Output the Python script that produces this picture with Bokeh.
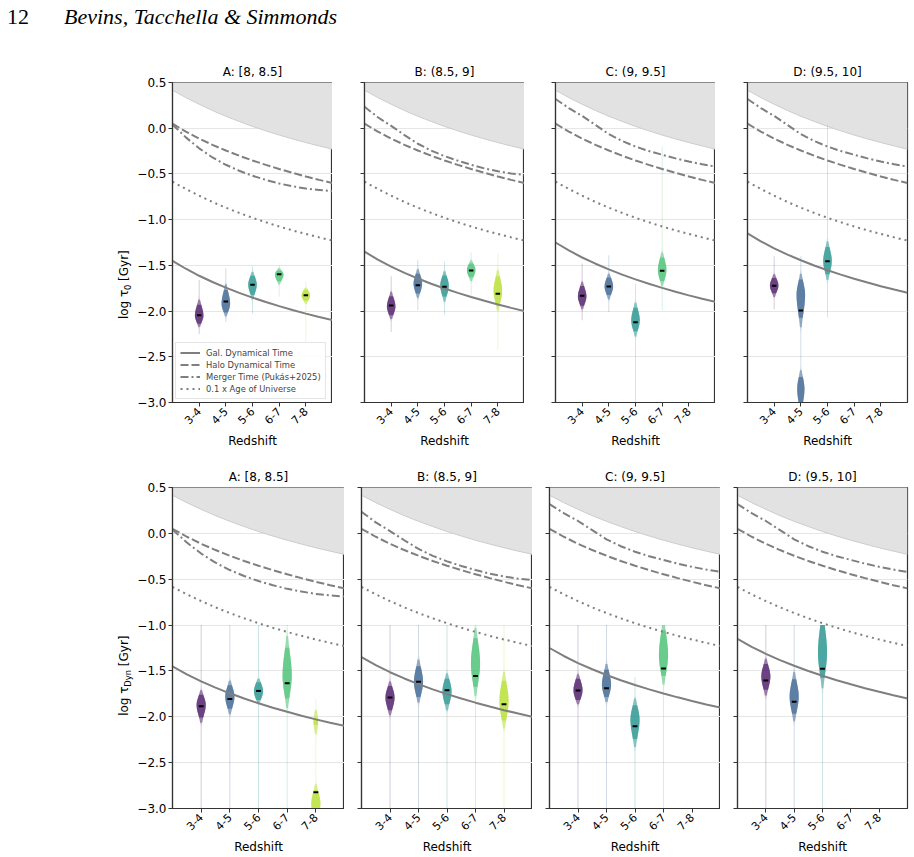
import numpy as np
from math import pi
from bokeh.plotting import figure
from bokeh.models import FixedTicker, Range1d, Label, Div, CustomJSTickFormatter, ColumnDataSource
from bokeh.layouts import row, column
from bokeh.embed import file_html
from bokeh.resources import INLINE

FONT = "DejaVu Sans"

# ---------------- data ----------------
redshift_bins = ["3-4", "4-5", "5-6", "6-7", "7-8"]
bin_x = [0, 1, 2, 3, 4]
panel_titles = ["A: [8, 8.5]", "B: (8.5, 9]", "C: (9, 9.5]", "D: (9.5, 10]"]
y_ticks = [-3.0, -2.5, -2.0, -1.5, -1.0, -0.5, 0.0, 0.5]
bin_colors = ["#471365", "#355f8d", "#21918c", "#44bf70", "#b5de2b"]

# curves sampled along the redshift axis (axis position -1 ... 5)
curve_x = [-1.0, -0.5, 0.0, 0.5, 1.0, 1.5, 2.0, 2.5, 3.0, 3.5, 4.0, 4.5, 5.0]
age_universe = [0.415, 0.335, 0.262, 0.193, 0.131, 0.074, 0.020, -0.029, -0.075, -0.117, -0.157, -0.194, -0.229]
tenth_age = [-0.585, -0.665, -0.738, -0.807, -0.869, -0.926, -0.980, -1.029, -1.075, -1.117, -1.157, -1.194, -1.229]
halo_dyn = [0.050, -0.037, -0.114, -0.182, -0.244, -0.301, -0.353, -0.401, -0.446, -0.488, -0.528, -0.565, -0.600]
gal_dyn_A = [-1.450, -1.537, -1.614, -1.682, -1.744, -1.801, -1.853, -1.901, -1.946, -1.988, -2.028, -2.065, -2.100]
gal_dyn_B = [-1.350, -1.437, -1.514, -1.582, -1.644, -1.701, -1.753, -1.801, -1.846, -1.888, -1.928, -1.965, -2.000]
gal_dyn_C = [-1.250, -1.337, -1.414, -1.482, -1.544, -1.601, -1.653, -1.701, -1.746, -1.788, -1.828, -1.865, -1.900]
gal_dyn_D = [-1.150, -1.237, -1.314, -1.382, -1.444, -1.501, -1.553, -1.601, -1.646, -1.688, -1.728, -1.765, -1.800]
merger_A = [0.040, -0.100, -0.220, -0.320, -0.400, -0.465, -0.520, -0.565, -0.605, -0.635, -0.660, -0.675, -0.690]
merger_B = [0.235, 0.120, 0.025, -0.075, -0.170, -0.245, -0.305, -0.355, -0.400, -0.440, -0.470, -0.495, -0.510]
merger_C = [0.320, 0.220, 0.135, 0.035, -0.065, -0.140, -0.200, -0.250, -0.290, -0.330, -0.365, -0.395, -0.420]
merger_D = [0.320, 0.220, 0.135, 0.035, -0.065, -0.140, -0.200, -0.250, -0.290, -0.330, -0.365, -0.395, -0.420]
gal_dyn = [gal_dyn_A, gal_dyn_B, gal_dyn_C, gal_dyn_D]
merger = [merger_A, merger_B, merger_C, merger_D]

# violins, log tau_0 (top row): one list per panel A..D, one value per redshift bin
t0_median = [[-2.045, -1.895, -1.713, -1.596, -1.826],
             [-1.939, -1.717, -1.735, -1.556, -1.811],
             [-1.833, -1.731, -2.121, -1.560],
             [-1.724, -1.994, -1.454]]
t0_peak = [[-2.05, -1.92, -1.71, -1.60, -1.83],
           [-1.95, -1.70, -1.72, -1.55, -1.78],
           [-1.84, -1.73, -2.10, -1.55],
           [-1.72, -1.82, -1.45]]
t0_sig_up = [[0.10, 0.12, 0.08, 0.04, 0.05],
             [0.09, 0.09, 0.09, 0.06, 0.13],
             [0.09, 0.08, 0.11, 0.11],
             [0.07, 0.13, 0.12]]
t0_sig_dn = [[0.07, 0.08, 0.09, 0.06, 0.05],
             [0.08, 0.09, 0.10, 0.07, 0.12],
             [0.08, 0.08, 0.10, 0.10],
             [0.07, 0.20, 0.12]]
t0_lo = [[-2.25, -2.12, -2.03, -1.84, -2.35],
         [-2.23, -1.99, -2.04, -1.83, -2.42],
         [-2.10, -2.01, -3.00, -1.99],
         [-1.98, -3.00, -2.07]]
t0_hi = [[-1.66, -1.53, -1.51, -1.50, -1.68],
         [-1.62, -1.44, -1.46, -1.36, -1.37],
         [-1.48, -1.39, -1.70, -0.20],
         [-1.40, -1.40, 0.03]]
# secondary lobes: (bin index, centre, sigma up, sigma down, relative height)
t0_lobes = [[], [], [], [(1, -2.85, 0.12, 0.15, 0.85)]]

# violins, log tau_Dyn (bottom row)
dyn_median = [[-1.885, -1.805, -1.718, -1.634, -2.823],
              [-1.790, -1.619, -1.710, -1.554, -1.863],
              [-1.714, -1.688, -2.103, -1.474],
              [-1.605, -1.837, -1.477]]
dyn_peak = [[-1.87, -1.78, -1.72, -1.55, -2.95],
            [-1.79, -1.62, -1.72, -1.42, -1.83],
            [-1.71, -1.65, -2.03, -1.33],
            [-1.56, -1.78, -1.30]]
dyn_sig_up = [[0.09, 0.10, 0.08, 0.24, 0.12],
              [0.10, 0.14, 0.11, 0.22, 0.18],
              [0.10, 0.13, 0.13, 0.22],
              [0.11, 0.15, 0.25]]
dyn_sig_dn = [[0.11, 0.11, 0.08, 0.20, 0.10],
              [0.11, 0.13, 0.12, 0.20, 0.17],
              [0.09, 0.11, 0.17, 0.18],
              [0.12, 0.15, 0.22]]
dyn_lo = [[-3.0, -3.0, -3.0, -3.0, -3.0],
          [-3.0, -3.0, -3.0, -3.0, -3.0],
          [-3.0, -3.0, -3.0, -3.0],
          [-3.0, -3.0, -3.0]]
dyn_hi = [[-1.0, -1.0, -1.0, -1.0, -1.81],
          [-1.0, -1.0, -1.0, -1.0, -1.0],
          [-1.0, -1.0, -1.57, -1.0],
          [-1.0, -1.0, -1.0]]
dyn_lobes = [[(4, -2.05, 0.09, 0.10, 0.5)], [], [], []]

# ---------------- drawing ----------------
DY = 0.008
HALF_W = 0.16
FLOOR = 0.1
LINE_COL = "#7f7f7f"
# opacity layers: (minimum relative width, layer alpha) -> cumulative 0.25 / 0.55 / 0.80
LAYERS = [(0.0, 0.25), (0.2, 0.40), (0.45, 0.556)]


def violin_patches(med, peak, su, sd, lo, hi, lobes):
    out = []  # one dict per opacity layer
    for thr, a in LAYERS:
        out.append(dict(xs=[], ys=[], color=[], alpha=[]))
    for i in range(len(med)):
        n = max(2, int(round((hi[i] - lo[i]) / DY)))
        yc = np.linspace(lo[i], hi[i], n + 1)
        s = np.where(yc > peak[i], su[i], sd[i])
        rel = np.exp(-0.5 * ((yc - peak[i]) / s) ** 2)
        for (bi, mu, s_up, s_dn, amp) in lobes:
            if bi == i:
                s2 = np.where(yc > mu, s_up, s_dn)
                rel = np.maximum(rel, amp * np.exp(-0.5 * ((yc - mu) / s2) ** 2))
        rel = rel / rel.max()
        rel = np.maximum(rel, FLOOR)
        half = HALF_W * rel
        xc = bin_x[i]
        for li, (thr, a) in enumerate(LAYERS):
            mask = rel >= thr
            idx = np.flatnonzero(mask)
            if idx.size < 2:
                continue
            runs = np.split(idx, np.flatnonzero(np.diff(idx) > 1) + 1)
            for r in runs:
                if r.size < 2:
                    continue
                xs = list(xc - half[r]) + list((xc + half[r])[::-1])
                ys = list(yc[r]) + list(yc[r][::-1])
                out[li]["xs"].append(xs)
                out[li]["ys"].append(ys)
                out[li]["color"].append(bin_colors[i])
                out[li]["alpha"].append(a)
    return [ColumnDataSource(d) for d in out]


def label_strip(width, height, parts, x_main, x_sub, y_center):
    """A bare strip (pixel coordinates) that carries the rotated y-axis label."""
    s = figure(frame_width=width, frame_height=height, min_border_left=0, min_border_right=0,
               min_border_top=0, min_border_bottom=0, x_range=Range1d(0, width), y_range=Range1d(0, height),
               x_axis_type=None, y_axis_type=None, output_backend="svg", toolbar_location=None,
               title=None, background_fill_color="white", border_fill_color="white", outline_line_color=None)
    s.grid.visible = False
    total = sum(w for _, _, w, _ in parts)
    y = y_center - total / 2.0
    for text, size, w, is_sub in parts:
        if text:
            s.add_layout(Label(x=(x_sub if is_sub else x_main), y=y + w / 2.0, text=text, angle=pi / 2,
                               text_font=FONT, text_font_size=size, text_color="black",
                               text_align="center", text_baseline="middle"))
        y += w
    return s


def build_panel(k, fw, fh, bl, br, bt, bb, vdata, with_legend):
    med, peak, su, sd, lo, hi, lobes = vdata
    p = figure(frame_width=fw, frame_height=fh, min_border_left=bl, min_border_right=br,
               min_border_top=bt, min_border_bottom=bb, x_range=Range1d(-1, 5),
               y_range=Range1d(-3.0, 0.5), output_backend="svg", toolbar_location=None,
               title=panel_titles[k], background_fill_color="white", border_fill_color="white")
    p.title.align = "center"
    p.title.text_font = FONT
    p.title.text_font_size = "12px"
    p.title.text_font_style = "normal"
    p.title.text_color = "black"
    p.title.standoff = 7

    p.outline_line_color = "#333333"
    p.outline_line_width = 1.2
    p.xgrid.visible = False
    p.ygrid.ticker = FixedTicker(ticks=y_ticks)
    p.ygrid.grid_line_color = "#e6e6e6"
    p.ygrid.grid_line_width = 1

    for ax in (p.xaxis[0], p.yaxis[0]):
        ax.axis_line_color = "#333333"
        ax.axis_line_width = 1.2
        ax.major_tick_line_color = "#333333"
        ax.major_tick_out = 4
        ax.major_tick_in = 0
        ax.minor_tick_out = 0
        ax.minor_tick_in = 0
        ax.major_label_text_font = FONT
        ax.major_label_text_font_size = "12px"
        ax.major_label_text_color = "black"
        ax.axis_label_text_font = FONT
        ax.axis_label_text_font_size = "12px"
        ax.axis_label_text_font_style = "normal"
        ax.axis_label_text_color = "black"

    p.xaxis.ticker = FixedTicker(ticks=bin_x)
    p.xaxis.major_label_overrides = {i: s for i, s in zip(bin_x, redshift_bins)}
    p.xaxis.major_label_orientation = pi / 4
    p.xaxis.major_label_standoff = 3
    p.xaxis.major_label_text_font_size = "11px"
    p.xaxis.axis_label = "Redshift"
    p.xaxis.axis_label_standoff = 3

    p.yaxis.ticker = FixedTicker(ticks=y_ticks)
    if k == 0:
        p.yaxis.formatter = CustomJSTickFormatter(code="return tick.toFixed(1).replace('-', '\u2212');")
        p.yaxis.major_label_standoff = 2
    else:
        p.yaxis.formatter = CustomJSTickFormatter(code="return '';")
        p.yaxis.major_label_standoff = 0

    # shaded region above the age of the Universe
    p.varea(x=curve_x, y1=age_universe, y2=[0.6] * len(curve_x), fill_color="#e2e2e2", fill_alpha=1.0)
    p.line(curve_x, age_universe, line_color="#cccccc", line_width=1)

    # violins (stacked opacity layers so the thin tails fade out)
    for src in violin_patches(med[k], peak[k], su[k], sd[k], lo[k], hi[k], lobes[k]):
        p.patches(xs="xs", ys="ys", fill_color="color", fill_alpha="alpha", line_color=None, source=src)

    lg = (lambda s: dict(legend_label=s)) if with_legend else (lambda s: {})
    p.line(curve_x, gal_dyn[k], line_color=LINE_COL, line_width=2, **lg("Gal. Dynamical Time"))
    p.line(curve_x, halo_dyn, line_color=LINE_COL, line_width=2, line_dash="8 3", **lg("Halo Dynamical Time"))
    p.line(curve_x, merger[k], line_color=LINE_COL, line_width=2, line_dash="8 3 2 3",
           **lg("Merger Time (Pukás+2025)"))
    p.line(curve_x, tenth_age, line_color=LINE_COL, line_width=2, line_dash="2 4", **lg("0.1 x Age of Universe"))

    # medians
    mx = bin_x[:len(med[k])]
    p.segment(x0=[x - 0.085 for x in mx], x1=[x + 0.085 for x in mx], y0=med[k], y1=med[k],
              line_color="black", line_width=2)

    if with_legend:
        lgd = p.legend[0]
        lgd.location = "bottom_left"
        lgd.label_text_font = FONT
        lgd.label_text_font_size = "8.4px"
        lgd.glyph_width = 20
        lgd.glyph_height = 11
        lgd.label_height = 11
        lgd.spacing = 1
        lgd.padding = 4
        lgd.margin = 3
        lgd.label_standoff = 6
        lgd.border_line_color = "#cccccc"
        lgd.border_line_width = 1
        lgd.background_fill_alpha = 0.85
    return p


t0_data = (t0_median, t0_peak, t0_sig_up, t0_sig_dn, t0_lo, t0_hi, t0_lobes)
dyn_data = (dyn_median, dyn_peak, dyn_sig_up, dyn_sig_dn, dyn_lo, dyn_hi, dyn_lobes)

STRIP = 134
top_fw = [160, 160, 160, 160]
top_bl = [171 - STRIP, 32, 31, 32]
top_br = [0, 0, 0, 8]
bot_fw = [172, 171, 171, 170]
bot_bl = [171 - STRIP, 17, 17, 17]
bot_br = [0, 0, 0, 8]

top_figs = [build_panel(k, top_fw[k], 320, top_bl[k], top_br[k], 42, 50, t0_data, k == 0) for k in range(4)]
bot_figs = [build_panel(k, bot_fw[k], 321, bot_bl[k], bot_br[k], 35, 49, dyn_data, False) for k in range(4)]

# y-axis labels with subscripts: (text, size, length in px, is subscript)
top_strip = label_strip(STRIP, 412,
                        [("log \u03c4", "12px", 28.8, False), ("0", "8.4px", 5.3, True), ("", "12px", 3.8, False),
                         ("[Gyr]", "12px", 30.7, False)], 123, 127.3, 210)
bot_strip = label_strip(STRIP, 405,
                        [("log \u03c4", "12px", 28.8, False), ("Dyn", "8.4px", 16.8, True), ("", "12px", 3.8, False),
                         ("[Gyr]", "12px", 30.7, False)], 123, 127.3, 217)

header = Div(text=(
    '<div style="position:relative;width:914px;height:40px;font-family:\'Liberation Serif\',serif;'
    'font-size:22px;color:#000;line-height:1;">'
    '<span style="position:absolute;left:7px;top:6px;">12</span>'
    '<span style="position:absolute;left:64px;top:6px;font-style:italic;">Bevins, Tacchella &amp; Simmonds</span>'
    '</div>'), width=914, height=40, margin=(0, 0, 0, 0))

layout = column(header, row(top_strip, *top_figs), row(bot_strip, *bot_figs))
open("out.html", "w").write(file_html(layout, INLINE, title="Bevins, Tacchella & Simmonds"))
